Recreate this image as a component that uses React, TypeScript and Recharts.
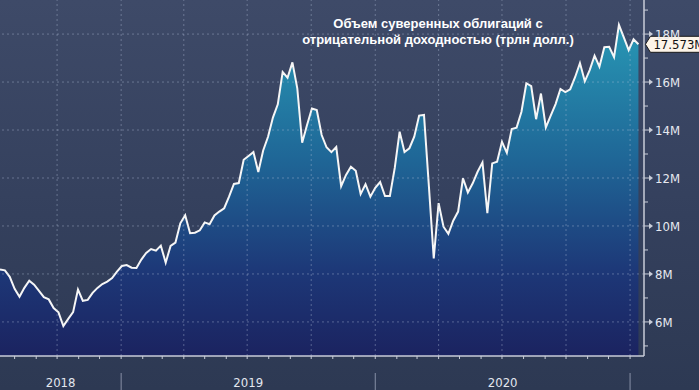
import React from "react";
import { Area, AreaChart, ReferenceDot, ReferenceLine, XAxis, YAxis } from "recharts";

const WIDTH = 699;
const HEIGHT = 390;

// weekly observations, first one on 2018-07-11
const START_DATE = Date.UTC(2018, 6, 11);
const DAY_MS = 86400000;
const DOMAIN_DAYS = 925;

const TITLE_LINES = [
  "Объем суверенных облигаций с",
  "отрицательной доходностью (трлн долл.)",
];

// trillions of USD (shown as "M" on the axis)
const VALUES = [
  8.19, 8.15, 7.88, 7.38, 7.05, 7.42, 7.72, 7.55, 7.29, 7.03,
  6.94, 6.58, 6.4, 5.83, 6.13, 6.41, 7.35, 6.88, 6.92, 7.21,
  7.42, 7.58, 7.68, 7.83, 8.1, 8.33, 8.37, 8.26, 8.25, 8.6,
  8.88, 9.04, 8.97, 9.18, 8.47, 9.17, 9.31, 10.11, 10.45, 9.7,
  9.72, 9.82, 10.15, 10.07, 10.44, 10.6, 10.74, 11.22, 11.75, 11.79,
  12.76, 12.92, 13.08, 12.25, 13.15, 13.72, 14.52, 15.07, 16.42, 16.18,
  16.82, 15.74, 13.47, 14.21, 14.9, 14.83, 13.79, 13.28, 13.08, 13.29,
  11.66, 12.13, 12.47, 12.3, 11.33, 11.74, 11.22, 11.59, 11.83, 11.25,
  11.25, 12.42, 13.93, 13.08, 13.24, 13.72, 14.6, 14.63, 11.67, 8.65,
  10.95, 9.97, 9.67, 10.22, 10.6, 11.99, 11.4, 11.78, 12.26, 12.65,
  10.53, 12.61, 12.68, 13.51, 13.05, 14.04, 14.1, 14.76, 15.95, 15.83,
  14.45, 15.52, 14.11, 14.6, 15.08, 15.71, 15.58, 15.7, 16.2, 16.79,
  16.03, 16.5, 17.1, 16.64, 17.45, 17.47, 17.04, 18.38, 17.86, 17.33,
  17.78, 17.573,
];

const Y_DOMAIN = [4.58, 19.42];
const Y_TICKS = [5, 6, 7, 8, 9, 10, 11, 12, 13, 14, 15, 16, 17, 18, 19];
const Y_GRID = [6, 8, 10, 12, 14, 16, 18];

const QUARTER_STARTS = [
  "2018-10-01",
  "2019-01-01",
  "2019-04-01",
  "2019-07-01",
  "2019-10-01",
  "2020-01-01",
  "2020-04-01",
  "2020-07-01",
  "2020-10-01",
  "2021-01-01",
];
const YEAR_LABELS = ["2018", "2019", "2020"];
const YEAR_BREAKS = ["2019-01-01", "2020-01-01", "2021-01-01"];

const AXIS_FONT =
  "'Liberation Sans Narrow', 'Arial Narrow', 'DejaVu Sans Condensed', sans-serif";
const GRID_STROKE = "rgba(185,196,222,0.38)";
const AXIS_STROKE = "#c9cdd8";

function dayOffset(iso: string) {
  return (Date.parse(iso + "T00:00:00Z") - START_DATE) / DAY_MS;
}

const chartData = VALUES.map((value, i) => ({ day: i * 7, value }));
const lastPoint = chartData[chartData.length - 1];

const monthTicks: number[] = [];
for (let y = 2018; y <= 2021; y++) {
  for (let m = 1; m <= 12; m++) {
    const d = dayOffset(`${y}-${String(m).padStart(2, "0")}-01`);
    if (d > 0 && d <= DOMAIN_DAYS) monthTicks.push(d);
  }
}

const breakDays = YEAR_BREAKS.map(dayOffset);
const yearLabelDays = new Map<number, string>();
YEAR_LABELS.forEach((label) => {
  const y = Number(label);
  const from = Math.max(0, dayOffset(`${y}-01-01`));
  const to = Math.min(DOMAIN_DAYS, dayOffset(`${y + 1}-01-01`));
  yearLabelDays.set((from + to) / 2, label);
});
const yearAxisTicks = [...breakDays, ...yearLabelDays.keys()].sort((a, b) => a - b);

function EmptyTick() {
  return <g />;
}

function YearTick({ x, y, payload }: any) {
  const label = yearLabelDays.get(payload.value);
  if (label) {
    return (
      <text
        x={x}
        y={y + 21}
        textAnchor="middle"
        fontSize={13}
        fontFamily={AXIS_FONT}
        fill="#e3e7ef"
      >
        {label}
      </text>
    );
  }
  return <line x1={x} x2={x} y1={y + 7} y2={y + 24} stroke="#8790a6" strokeWidth={1} />;
}

function ValueTick({ x, y, payload }: any) {
  const v = payload.value;
  if (v % 2 !== 0) {
    return <line x1={x} x2={x + 4} y1={y} y2={y} stroke={AXIS_STROKE} strokeWidth={1} />;
  }
  return (
    <g>
      <line x1={x} x2={x + 6} y1={y} y2={y} stroke={AXIS_STROKE} strokeWidth={1} />
      <polygon
        points={`${x + 5},${y - 3} ${x + 9},${y} ${x + 5},${y + 3}`}
        fill={AXIS_STROKE}
      />
      <text
        x={x + 11}
        y={y}
        dy="0.36em"
        fontSize={13}
        fontFamily={AXIS_FONT}
        fill="#e6e9f0"
      >
        {`${v}M`}
      </text>
    </g>
  );
}

function ValueTag({ cx, cy }: any) {
  return (
    <g>
      <polygon
        points={`${cx + 7},${cy} ${cx + 12},${cy - 8} ${cx + 80},${cy - 8} ${cx + 80},${cy + 8} ${cx + 12},${cy + 8}`}
        fill="#fdf4e8"
        stroke="#1a1a1a"
        strokeWidth={1}
      />
      <text
        x={cx + 15}
        y={cy}
        dy="0.36em"
        fontSize={13}
        fontFamily={AXIS_FONT}
        fill="#111"
      >
        {`${lastPoint.value.toFixed(3)}M`}
      </text>
    </g>
  );
}

export default function App() {
  return (
    <div
      style={{
        position: "fixed",
        left: 0,
        top: 0,
        width: WIDTH,
        height: HEIGHT,
        overflow: "hidden",
        background: "linear-gradient(180deg, #3e4a68 0%, #34405d 55%, #2d3953 100%)",
      }}
    >
      <AreaChart
        width={WIDTH}
        height={HEIGHT}
        data={chartData}
        margin={{ top: 0, right: 0, bottom: 0, left: 0 }}
      >
        <defs>
          <linearGradient id="volumeFill" x1="0" x2="0" y1="0" y2="1">
            <stop offset="0%" stopColor="#2898b5" />
            <stop offset="40%" stopColor="#1f6797" />
            <stop offset="75%" stopColor="#1d3777" />
            <stop offset="100%" stopColor="#1b2360" />
          </linearGradient>
        </defs>

        <XAxis
          dataKey="day"
          type="number"
          domain={[0, DOMAIN_DAYS]}
          ticks={monthTicks}
          interval={0}
          height={10}
          tick={EmptyTick}
          tickSize={3}
          tickLine={{ stroke: AXIS_STROKE }}
          axisLine={{ stroke: AXIS_STROKE, strokeWidth: 1.5 }}
          allowDataOverflow
        />
        <XAxis
          xAxisId="years"
          dataKey="day"
          type="number"
          domain={[0, DOMAIN_DAYS]}
          ticks={yearAxisTicks}
          interval={0}
          height={24}
          tick={YearTick}
          tickSize={0}
          tickMargin={0}
          tickLine={false}
          axisLine={false}
          allowDataOverflow
        />
        <YAxis
          orientation="right"
          type="number"
          domain={Y_DOMAIN}
          ticks={Y_TICKS}
          interval={0}
          width={55}
          tick={ValueTick}
          tickSize={0}
          tickMargin={0}
          tickLine={false}
          axisLine={{ stroke: AXIS_STROKE, strokeWidth: 1.5 }}
          allowDataOverflow
        />

        <Area
          type="linear"
          dataKey="value"
          stroke="#f6f6f6"
          strokeWidth={2}
          fill="url(#volumeFill)"
          fillOpacity={1}
          dot={false}
          activeDot={false}
          isAnimationActive={false}
        />

        {Y_GRID.map((v) => (
          <ReferenceLine
            key={`h${v}`}
            y={v}
            stroke={GRID_STROKE}
            strokeDasharray="2 3"
          />
        ))}
        {QUARTER_STARTS.map((q) => (
          <ReferenceLine
            key={q}
            x={dayOffset(q)}
            stroke={GRID_STROKE}
            strokeDasharray="2 3"
          />
        ))}

        <ReferenceDot
          x={lastPoint.day}
          y={lastPoint.value}
          r={0}
          shape={ValueTag}
        />
      </AreaChart>

      <div
        style={{
          position: "absolute",
          left: 438,
          top: 16,
          transform: "translateX(-50%)",
          whiteSpace: "nowrap",
          textAlign: "center",
          color: "#ffffff",
          fontFamily: "'Liberation Sans', Arial, sans-serif",
          fontWeight: "bold",
          fontSize: 13,
          lineHeight: "16px",
        }}
      >
        {TITLE_LINES.map((line) => (
          <div key={line}>{line}</div>
        ))}
      </div>
    </div>
  );
}
